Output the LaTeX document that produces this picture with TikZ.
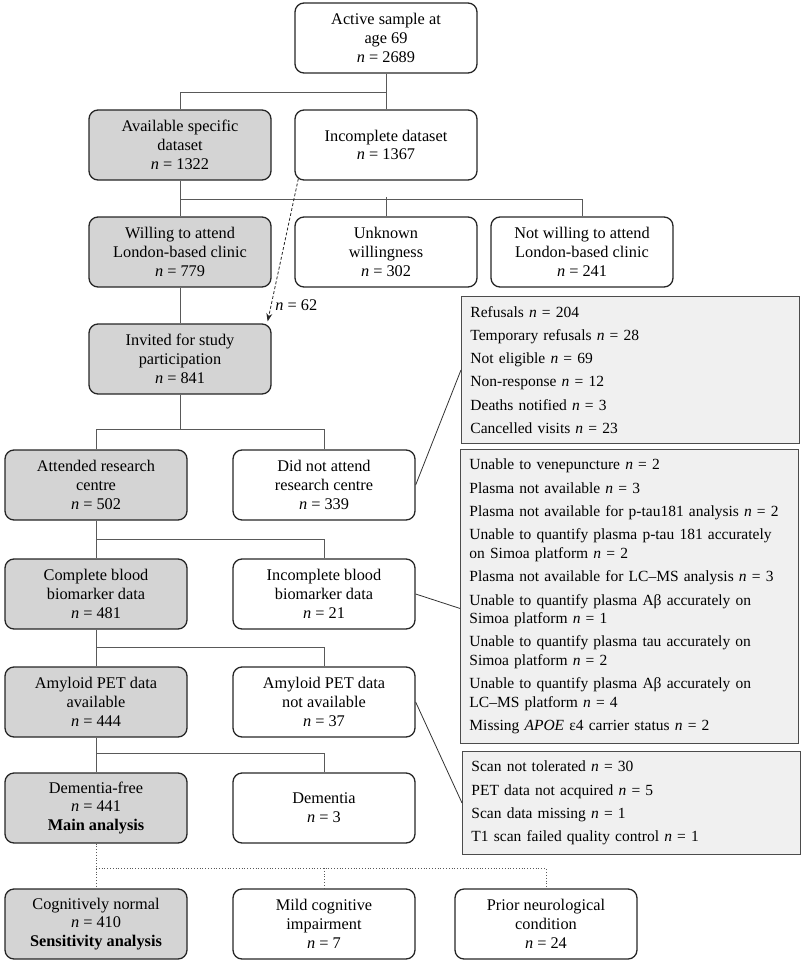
\documentclass[tikz,border=0pt]{standalone}
\usepackage{fontspec}
\setmainfont{Liberation Serif}
\usetikzlibrary{arrows.meta}

\begin{document}
\begin{tikzpicture}[x=1pt,y=-1pt,
  font=\fontsize{16.3}{18.7}\selectfont,
  box/.style={draw=black!85,line width=1.3pt,rounded corners=9pt,
    minimum width=182pt,minimum height=70pt,align=center,inner sep=1pt},
  keep/.style={box,fill=black!17},
  side/.style={draw=black!70,line width=0.9pt,fill=black!6,anchor=north west,
    text width=320pt,inner xsep=9pt,inner ysep=0pt,align=left,
    font=\fontsize{15.5}{18.4}\selectfont},
  link/.style={draw=black!65,line width=0.8pt}]
\useasboundingbox (0,0) rectangle (800,963);

% main flow
\node[box]  (act)      at (386,38)  {Active sample at\\age 69\\\textit{n} = 2689};
\node[keep] (avail)    at (180,145) {Available specific\\dataset\\\textit{n} = 1322};
\node[box]  (incds)    at (386,145) {Incomplete dataset\\\textit{n} = 1367};
\node[keep] (willing)  at (180,252) {Willing to attend\\London-based clinic\\\textit{n} = 779};
\node[box]  (unknown)  at (386,252) {Unknown\\willingness\\\textit{n} = 302};
\node[box]  (notwill)  at (582,252) {Not willing to attend\\London-based clinic\\\textit{n} = 241};
\node[keep] (invited)  at (180,359) {Invited for study\\participation\\\textit{n} = 841};
\node[keep] (attended) at (96,485)  {Attended research\\centre\\\textit{n} = 502};
\node[box]  (didnot)   at (324,485) {Did not attend\\research centre\\\textit{n} = 339};
\node[keep] (complete) at (96,594)  {Complete blood\\biomarker data\\\textit{n} = 481};
\node[box]  (incblood) at (324,594) {Incomplete blood\\biomarker data\\\textit{n} = 21};
\node[keep] (amyav)    at (96,702)  {Amyloid PET data\\available\\\textit{n} = 444};
\node[box]  (amynot)   at (324,702) {Amyloid PET data\\not available\\\textit{n} = 37};
\node[keep] (demfree)  at (96,808)  {Dementia-free\\\textit{n} = 441\\\textbf{Main analysis}};
\node[box]  (dementia) at (324,808) {Dementia\\\textit{n} = 3};
\node[keep] (cognorm)  at (96,924)  {Cognitively normal\\\textit{n} = 410\\\textbf{Sensitivity analysis}};
\node[box]  (mci)      at (324,924) {Mild cognitive\\impairment\\\textit{n} = 7};
\node[box]  (prior)    at (546,924) {Prior neurological\\condition\\\textit{n} = 24};

% reasons
\node[side,minimum height=147pt] (refusals) at (461,296) {Refusals \textit{n} = 204\\[4.9pt]
  Temporary refusals \textit{n} = 28\\[4.9pt]
  Not eligible \textit{n} = 69\\[4.9pt]
  Non-response \textit{n} = 12\\[4.9pt]
  Deaths notified \textit{n} = 3\\[4.9pt]
  Cancelled visits \textit{n} = 23};
\node[side,minimum height=294pt] (bloodmiss) at (460,449) {Unable to venepuncture \textit{n} = 2\\[5pt]
  Plasma not available \textit{n} = 3\\[5pt]
  Plasma not available for p-tau181 analysis \textit{n} = 2\\[5pt]
  Unable to quantify plasma p-tau 181 accurately\\on Simoa platform \textit{n} = 2\\[5pt]
  Plasma not available for LC--MS analysis \textit{n} = 3\\[5pt]
  Unable to quantify plasma Aβ accurately on\\Simoa platform \textit{n} = 1\\[5pt]
  Unable to quantify plasma tau accurately on\\Simoa platform \textit{n} = 2\\[5pt]
  Unable to quantify plasma Aβ accurately on\\LC--MS platform \textit{n} = 4\\[5pt]
  Missing \textit{APOE} ε4 carrier status \textit{n} = 2};
\node[side,minimum height=103pt] (petmiss) at (462,751) {Scan not tolerated \textit{n} = 30\\[4.9pt]
  PET data not acquired \textit{n} = 5\\[4.9pt]
  Scan data missing \textit{n} = 1\\[4.9pt]
  T1 scan failed quality control \textit{n} = 1};

% tree links
\draw[link] (act.south) -- (incds.north);
\draw[link] (act.south) ++(0,19) -| (avail.north);
\draw[link] (avail.south) -- (willing.north);
\draw[link] (avail.south) ++(0,19) -| (notwill.north);
\draw[link] (unknown.north) -- ++(0,-19);
\draw[link] (willing.south) -- (invited.north);
\draw[link] (invited.south) -- ++(0,35) coordinate (b4);
\draw[link] (attended.north) |- (b4) -| (didnot.north);
\draw[link] (attended.south) -- (complete.north);
\draw[link] (attended.south) ++(0,19) -| (incblood.north);
\draw[link] (complete.south) -- (amyav.north);
\draw[link] (complete.south) ++(0,18) -| (amynot.north);
\draw[link] (amyav.south) -- (demfree.north);
\draw[link] (amyav.south) ++(0,16) -| (dementia.north);
\draw[link,dotted] (demfree.south) -- (cognorm.north);
\draw[link,dotted] (demfree.south) ++(0,25) -| (prior.north);
\draw[link,dotted] (mci.north) -- ++(0,-21);

% side links
\draw[link,black!80] (didnot.east) -- (refusals.west);
\draw[link,black!80] (incblood.east) -- ([yshift=-12pt]bloodmiss.west);
\draw[link,black!80] (amynot.east) -- (petmiss.west);

% late invitations
\draw[black!85,line width=0.8pt,dash pattern=on 3pt off 2pt,-{Stealth[length=8pt,width=6pt]}]
  ([xshift=4pt,yshift=2pt]incds.south west) -- ([xshift=-4pt,yshift=2pt]invited.north east)
  node[pos=0.89,right=3pt,inner sep=1pt,text=black] {\textit{n} = 62};
\end{tikzpicture}
\end{document}
